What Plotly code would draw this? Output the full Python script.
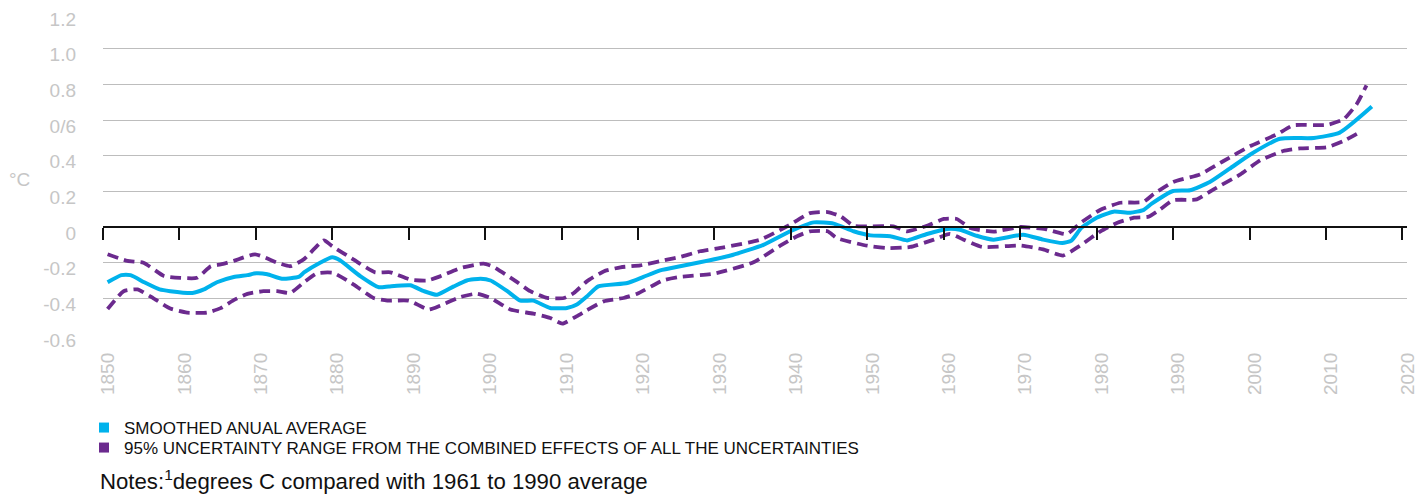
import plotly.graph_objects as go

# Smoothed annual average temperature anomaly (°C vs 1961-1990)
AVG_YEARS = [1850.6, 1852.4, 1853.6, 1855.4, 1857.4, 1858.8, 1861.7, 1863.2, 1864.9, 1867.1,
             1868.9, 1870.0, 1871.5, 1873.4, 1875.6, 1876.3, 1878.4, 1880.0, 1881.0, 1883.7,
             1886.1, 1887.4, 1890.2, 1892.0, 1893.7, 1895.9, 1897.6, 1899.4, 1900.7, 1902.9,
             1904.6, 1906.3, 1908.5, 1910.7, 1912.0, 1913.3, 1914.8, 1918.6, 1920.7, 1922.9,
             1925.5, 1928.1, 1932.1, 1936.4, 1939.9, 1943.0, 1945.6, 1948.2, 1950.4, 1953.0,
             1955.2, 1957.8, 1960.4, 1962.1, 1964.3, 1966.5, 1970.4, 1973.0, 1975.5, 1976.7,
             1978.0, 1980.0, 1982.2, 1984.4, 1986.1, 1987.2, 1990.0, 1992.2, 1994.8, 1997.4,
             2000.1, 2004.0, 2008.4, 2011.8, 2016.0]
AVG = [-0.31, -0.27, -0.27, -0.31, -0.35, -0.36, -0.37, -0.35, -0.31, -0.28,
       -0.27, -0.26, -0.265, -0.29, -0.28, -0.255, -0.20, -0.17, -0.187, -0.277,
       -0.338, -0.333, -0.327, -0.36, -0.38, -0.333, -0.30, -0.29, -0.30, -0.36,
       -0.413, -0.413, -0.454, -0.454, -0.435, -0.39, -0.333, -0.314, -0.28, -0.243,
       -0.22, -0.198, -0.16, -0.10, -0.024, 0.026, 0.019, -0.024, -0.047, -0.052,
       -0.075, -0.039, -0.011, -0.015, -0.049, -0.071, -0.043, -0.071, -0.09, -0.076,
       -0.005, 0.052, 0.086, 0.08, 0.095, 0.131, 0.202, 0.206, 0.252, 0.327,
       0.407, 0.495, 0.499, 0.529, 0.675]

# Upper bound of the 95% uncertainty range
UPPER_YEARS = [1850.6, 1853.2, 1855.3, 1858.0, 1860.1, 1862.3, 1864.1, 1865.4, 1867.1, 1869.9,
               1872.8, 1874.5, 1876.3, 1878.9, 1880.0, 1882.8, 1885.6, 1887.6, 1890.2, 1892.4,
               1894.1, 1896.8, 1899.8, 1901.1, 1903.7, 1905.9, 1908.1, 1910.3, 1911.6, 1913.3,
               1915.5, 1917.7, 1920.3, 1923.8, 1925.5, 1928.1, 1931.2, 1936.0, 1939.5, 1942.5,
               1944.8, 1946.5, 1948.2, 1950.4, 1953.4, 1955.2, 1957.8, 1960.0, 1961.7, 1963.5,
               1966.5, 1970.0, 1973.3, 1976.1, 1977.8, 1980.5, 1983.1, 1986.1, 1987.4, 1990.0,
               1993.5, 1996.6, 2000.1, 2003.6, 2005.7, 2010.1, 2012.3, 2014.0, 2015.3]
UPPER = [-0.153, -0.19, -0.20, -0.275, -0.285, -0.285, -0.22, -0.21, -0.19, -0.153,
         -0.20, -0.22, -0.18, -0.075, -0.108, -0.183, -0.254, -0.254, -0.295, -0.30,
         -0.277, -0.23, -0.205, -0.224, -0.295, -0.36, -0.398, -0.398, -0.37, -0.305,
         -0.249, -0.226, -0.215, -0.183, -0.168, -0.136, -0.114, -0.071, 0.004, 0.078,
         0.084, 0.06, 0.007, 0.004, 0.004, -0.024, 0.007, 0.045, 0.045, -0.006,
         -0.026, 0.0, -0.012, -0.04, 0.02, 0.097, 0.136, 0.14, 0.183, 0.252,
         0.295, 0.37, 0.454, 0.52, 0.57, 0.572, 0.604, 0.688, 0.794]

# Lower bound of the 95% uncertainty range
LOWER_YEARS = [1850.6, 1852.7, 1854.5, 1856.6, 1858.8, 1861.0, 1863.6, 1865.4, 1867.1, 1868.9,
               1871.0, 1872.8, 1874.5, 1876.3, 1878.0, 1880.1, 1882.8, 1885.4, 1887.2, 1890.0,
               1892.6, 1894.1, 1896.8, 1898.9, 1900.7, 1903.3, 1906.3, 1908.5, 1910.1, 1912.0,
               1913.3, 1915.5, 1918.1, 1919.9, 1923.3, 1925.5, 1929.9, 1935.1, 1938.6, 1940.8,
               1942.5, 1944.8, 1946.0, 1950.0, 1952.5, 1955.6, 1958.7, 1960.8, 1962.6, 1965.0,
               1970.0, 1973.0, 1975.6, 1977.8, 1980.5, 1982.7, 1984.9, 1986.8, 1988.3, 1990.0,
               1993.1, 1995.3, 1998.8, 2001.4, 2004.4, 2006.6, 2010.1, 2012.3, 2014.7]
LOWER = [-0.46, -0.36, -0.35, -0.40, -0.457, -0.48, -0.48, -0.455, -0.41, -0.375,
         -0.36, -0.36, -0.37, -0.31, -0.26, -0.257, -0.323, -0.398, -0.413, -0.413,
         -0.463, -0.441, -0.392, -0.374, -0.398, -0.463, -0.486, -0.51, -0.542, -0.50,
         -0.467, -0.417, -0.398, -0.374, -0.299, -0.28, -0.262, -0.198, -0.105, -0.052,
         -0.024, -0.024, -0.062, -0.105, -0.118, -0.112, -0.071, -0.039, -0.071, -0.112,
         -0.104, -0.126, -0.16, -0.105, -0.024, 0.024, 0.052, 0.058, 0.099, 0.15,
         0.155, 0.211, 0.295, 0.374, 0.426, 0.441, 0.447, 0.482, 0.538]

Y_TICKS = [1.2, 1.0, 0.8, 0.6, 0.4, 0.2, 0, -0.2, -0.4, -0.6]
Y_TICK_TEXT = ["1.2", "1.0", "0.8", "0/6", "0.4", "0.2", "0", "-0.2", "-0.4", "-0.6"]
X_TICKS = list(range(1850, 2021, 10))

LEGEND_AVG = "SMOOTHED ANUAL AVERAGE"
LEGEND_RANGE = "95% UNCERTAINTY RANGE FROM THE COMBINED EFFECTS OF ALL THE UNCERTAINTIES"
NOTE = "Notes:<sup>1</sup>degrees C compared with 1961 to 1990 average"

BLUE = "#00b2ec"
PURPLE = "#6b2a8e"
GREY_TEXT = "#c6c6c6"
FONT = "Liberation Sans, Arial, sans-serif"

W, H = 1421, 495
M_L, M_R, M_T, M_B = 103, 14, 13, 161
PLOT_W = W - M_L - M_R
PLOT_H = H - M_T - M_B
Y_MIN, Y_MAX = -0.6, 1.2

fig = go.Figure()

dash = "11px,6px"
fig.add_trace(go.Scatter(x=UPPER_YEARS, y=UPPER, mode="lines", showlegend=False,
                         line=dict(color=PURPLE, width=3.8, dash=dash, shape="spline", smoothing=0.5),
                         hoverinfo="skip"))
fig.add_trace(go.Scatter(x=LOWER_YEARS, y=LOWER, mode="lines", showlegend=False,
                         line=dict(color=PURPLE, width=3.8, dash=dash, shape="spline", smoothing=0.5),
                         hoverinfo="skip"))
fig.add_trace(go.Scatter(x=AVG_YEARS, y=AVG, mode="lines", showlegend=False,
                         line=dict(color=BLUE, width=4, shape="spline", smoothing=0.5)))

# legend entries (square swatches), one legend per row for exact placement
fig.add_trace(go.Scatter(x=[None], y=[None], mode="markers", name=LEGEND_AVG, legend="legend",
                         marker=dict(symbol="square", size=10, color=BLUE)))
fig.add_trace(go.Scatter(x=[None], y=[None], mode="markers", name=LEGEND_RANGE, legend="legend2",
                         marker=dict(symbol="square", size=10, color=PURPLE)))

# invisible trace attached to the zero-line axis so it renders
fig.add_trace(go.Scatter(x=[None], y=[None], xaxis="x2", showlegend=False, hoverinfo="skip"))


def px_x(px):
    return (px - M_L) / PLOT_W


def px_y(py):
    return (H - M_B - py) / PLOT_H


legend_common = dict(xanchor="left", yanchor="middle", bgcolor="rgba(0,0,0,0)",
                     font=dict(family=FONT, size=17, color="#111111"),
                     itemwidth=30, borderwidth=0)
fig.update_layout(
    legend=dict(x=px_x(84), y=px_y(428), **legend_common),
    legend2=dict(x=px_x(84), y=px_y(448), **legend_common),
)

fig.update_layout(
    width=W, height=H,
    margin=dict(l=M_L, r=M_R, t=M_T, b=M_B, pad=0, autoexpand=False),
    paper_bgcolor="white", plot_bgcolor="white",
    font=dict(family=FONT, color=GREY_TEXT),
    xaxis=dict(range=[1850, 2020.6], tickvals=X_TICKS, tickangle=-90,
               tickfont=dict(size=19, color=GREY_TEXT), showgrid=False, zeroline=False,
               showline=False, ticks="", ticklabelstandoff=14, ticklabelshift=5,
               automargin=False),
    xaxis2=dict(range=[1850, 2020.6], overlaying="x", anchor="free",
                position=(0 - Y_MIN) / (Y_MAX - Y_MIN), side="bottom",
                tickvals=X_TICKS, showticklabels=False, showgrid=False, zeroline=False,
                showline=True, linecolor="#111111", linewidth=1.5,
                ticks="outside", ticklen=12, tickwidth=1.5, tickcolor="#111111",
                automargin=False),
    yaxis=dict(range=[Y_MIN, Y_MAX], tickvals=Y_TICKS, ticktext=Y_TICK_TEXT,
               tickfont=dict(size=19, color=GREY_TEXT), showgrid=True,
               gridcolor="#bdbdbd", gridwidth=1.2, zeroline=False, showline=False,
               ticks="", ticklabelstandoff=26, ticklabelshift=6, automargin=False),
    showlegend=True,
)

fig.add_annotation(text="°C", xref="paper", yref="paper", x=px_x(19.5), y=px_y(180),
                   xanchor="center", yanchor="middle", showarrow=False,
                   font=dict(family=FONT, size=19, color=GREY_TEXT))
fig.add_annotation(text=NOTE, xref="paper", yref="paper", x=px_x(98), y=px_y(480),
                   xanchor="left", yanchor="middle", showarrow=False,
                   font=dict(family=FONT, size=22.2, color="#111111"))

fig.write_html("out.html")
